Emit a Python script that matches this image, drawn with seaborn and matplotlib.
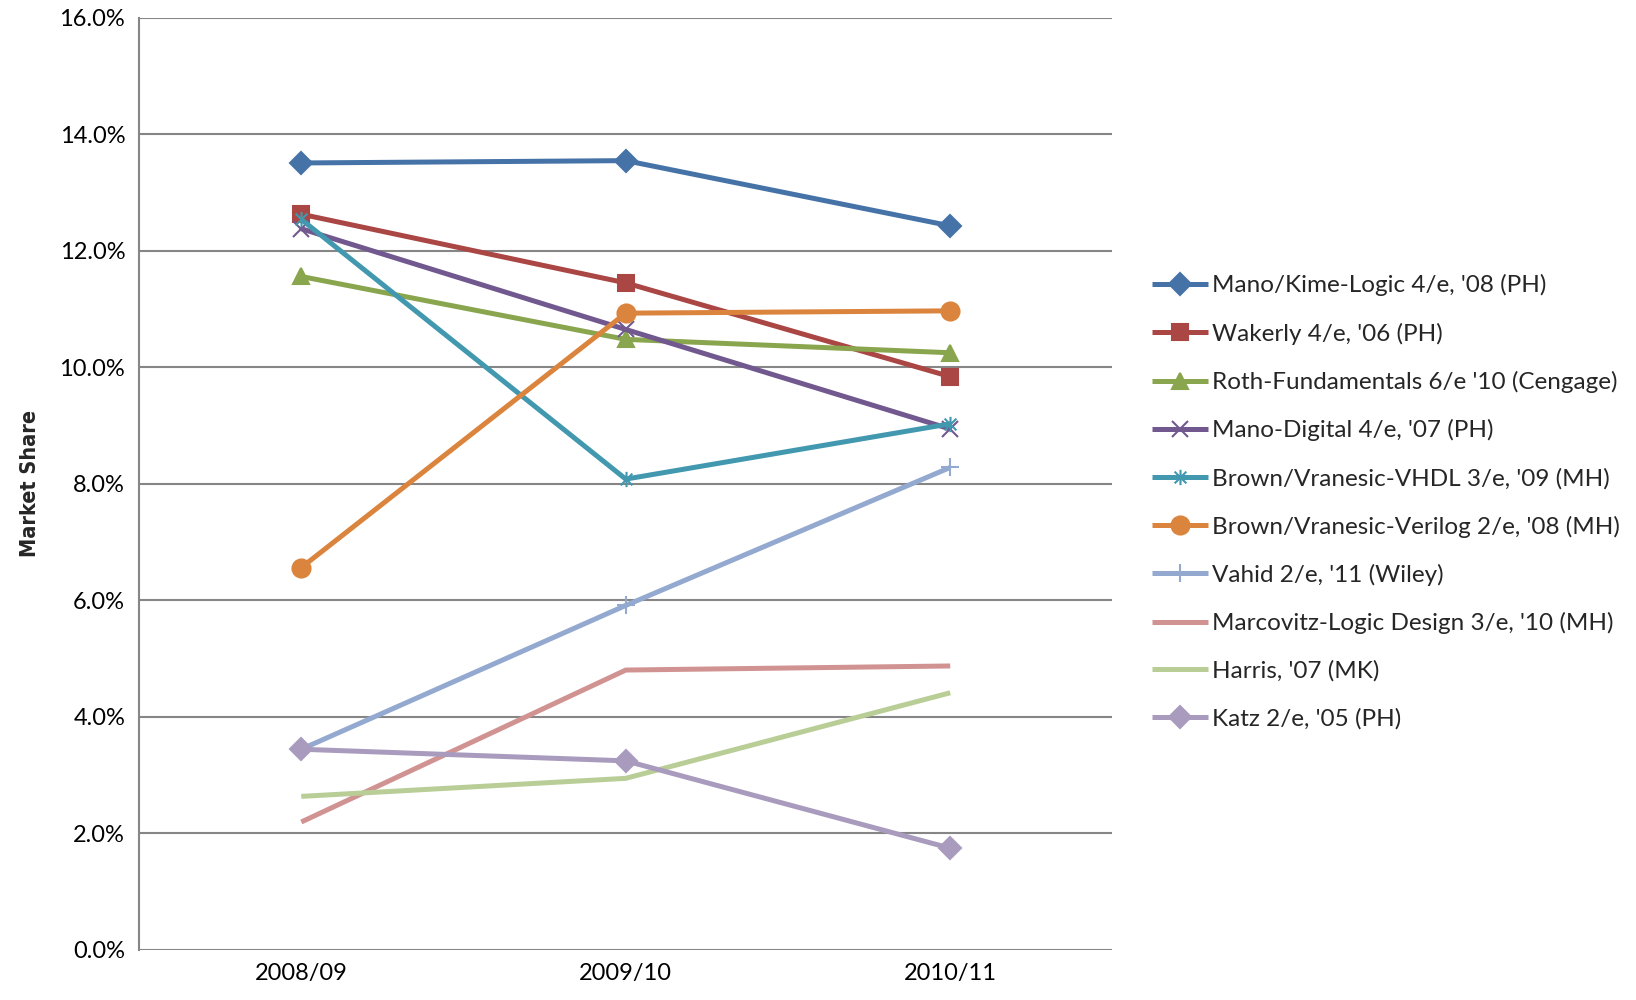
import matplotlib
matplotlib.use("Agg")
import matplotlib.pyplot as plt
from matplotlib.path import Path
from matplotlib.ticker import PercentFormatter
import seaborn as sns
import pandas as pd

# -------------------
# Data (market share, %)
# -------------------
years = ["2008/09", "2009/10", "2010/11"]

mano_kime = [13.51, 13.55, 12.43]
wakerly = [12.63, 11.45, 9.84]
roth = [11.56, 10.48, 10.25]
mano_digital = [12.38, 10.65, 8.94]
brown_vhdl = [12.54, 8.08, 9.03]
brown_verilog = [6.56, 10.93, 10.97]
vahid = [3.44, 5.91, 8.28]
marcovitz = [2.19, 4.80, 4.87]
harris = [2.63, 2.94, 4.41]
katz = [3.44, 3.24, 1.74]

labels = [
    "Mano/Kime-Logic 4/e, '08 (PH)",
    "Wakerly 4/e, '06 (PH)",
    "Roth-Fundamentals 6/e '10 (Cengage)",
    "Mano-Digital 4/e, '07 (PH)",
    "Brown/Vranesic-VHDL 3/e, '09 (MH)",
    "Brown/Vranesic-Verilog 2/e, '08 (MH)",
    "Vahid 2/e, '11 (Wiley)",
    "Marcovitz-Logic Design 3/e, '10 (MH)",
    "Harris, '07 (MK)",
    "Katz 2/e, '05 (PH)",
]
series = [mano_kime, wakerly, roth, mano_digital, brown_vhdl,
          brown_verilog, vahid, marcovitz, harris, katz]

# -------------------
# Style
# -------------------
colors = ["#4572A7", "#AA4643", "#89A54E", "#71588F", "#4198AF",
          "#DB843D", "#93A9CF", "#D19392", "#B9CD96", "#A99BBD"]

# Excel-like asterisk: an "x" with a vertical bar
asterisk = Path([(-1, -1), (1, 1), (-1, 1), (1, -1), (0, -1.3), (0, 1.3)],
                [Path.MOVETO, Path.LINETO, Path.MOVETO, Path.LINETO,
                 Path.MOVETO, Path.LINETO])

markers = ["D", "s", "^", "x", asterisk, "o", "+", None, None, "D"]
msizes = [11, 12, 12, 11, 11, 13, 13, 0, 0, 11]

sns.set_theme(style="white")
plt.rcParams["font.family"] = ["Lato", "DejaVu Sans"]

fig = plt.figure(figsize=(16.36, 10), dpi=100)
ax = fig.add_axes([0.085, 0.0505, 0.595, 0.9315])

for lab, vals, col, mk, ms in zip(labels, series, colors, markers, msizes):
    df = pd.DataFrame({"year": years, "share": vals})
    kw = {}
    if mk is not None:
        kw = dict(marker=mk, markersize=ms, markerfacecolor=col,
                  markeredgecolor=col, markeredgewidth=1.5)
    sns.lineplot(data=df, x="year", y="share", color=col, linewidth=3.6,
                 label=lab, ax=ax, solid_capstyle="butt", **kw)

ax.set_xlim(-0.5, 2.5)
ax.set_ylim(0, 16)
ax.set_yticks(range(0, 17, 2))
ax.yaxis.set_major_formatter(PercentFormatter(decimals=1))
ax.grid(axis="y", color="#868686", linewidth=1.5)
ax.set_axisbelow(True)
for side in ["top", "right", "bottom"]:
    ax.spines[side].set_visible(False)
ax.spines["left"].set_color("#868686")
ax.spines["left"].set_linewidth(1.5)
ax.tick_params(axis="both", length=0, labelsize=17, colors="black", pad=10)
ax.set_xlabel("")
ax.set_ylabel("Market Share", fontsize=15.5, fontweight="bold", labelpad=14,
              family="DejaVu Sans", fontstretch="condensed")

ax.legend(loc="center left", bbox_to_anchor=(0.698, 0.498),
          bbox_transform=fig.transFigure, frameon=False, fontsize=17.5,
          handlelength=2.3, handletextpad=0.2, labelspacing=1.08,
          borderaxespad=0)

fig.savefig("out.png", dpi=100)
